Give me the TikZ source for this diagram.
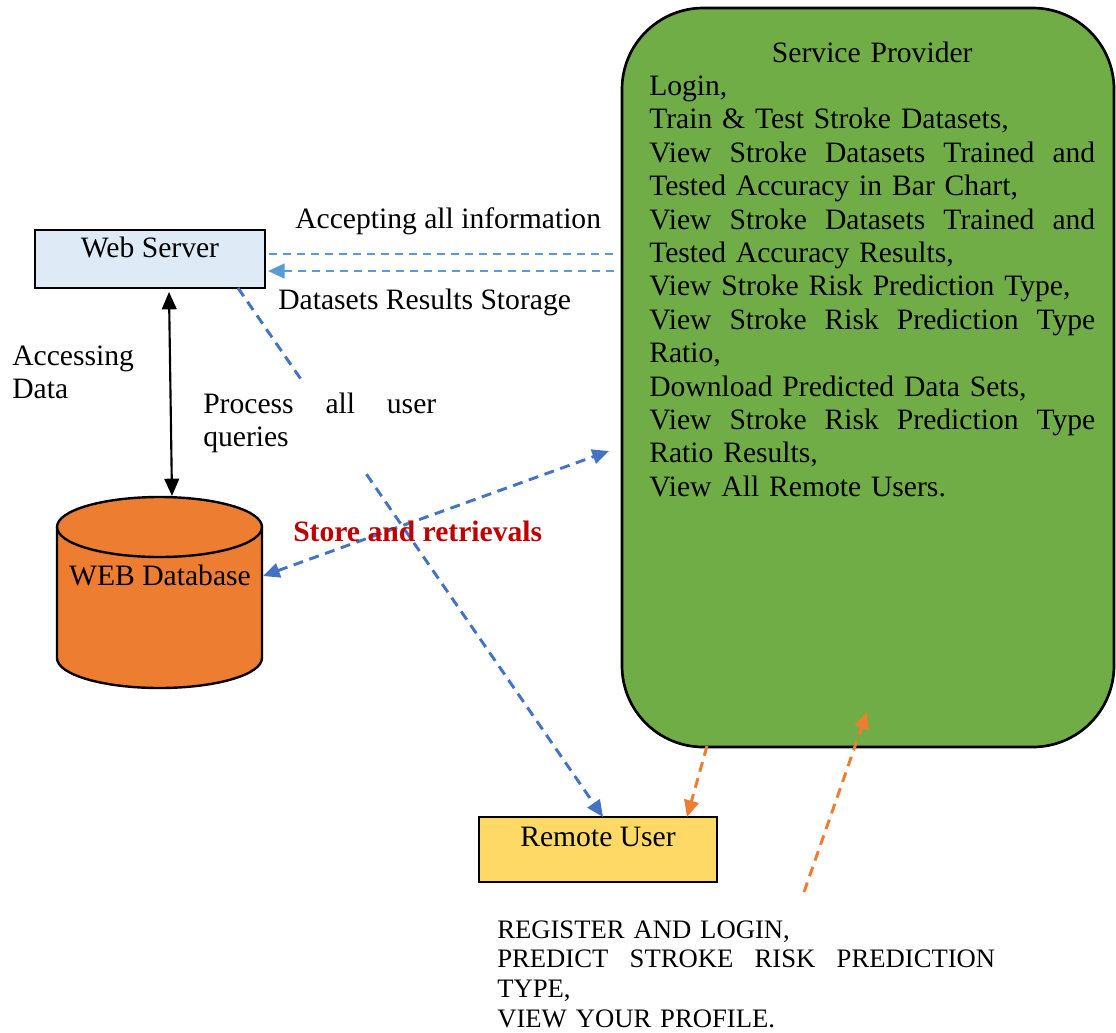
\documentclass[tikz,border=0pt]{standalone}
\usepackage{fontspec}
\setmainfont{Liberation Serif}
\usetikzlibrary{arrows.meta,calc,fit}

\definecolor{spgreen}{HTML}{70AD47}
\definecolor{dborange}{HTML}{ED7D31}
\definecolor{wsblue}{HTML}{DEEBF7}
\definecolor{ruyellow}{HTML}{FFD966}
\definecolor{linkblue}{HTML}{4472C4}
\definecolor{lightlink}{HTML}{5B9BD5}
\definecolor{darkred}{HTML}{C00000}

\newcommand\mainfs{\fontsize{22.2}{25.05}\selectfont}
\newcommand\capsfs{\fontsize{20}{22.3}\selectfont}
% a line spread over the full width of its text block
\newcommand\fullline[1]{\leavevmode\hbox to \linewidth{#1}}

\tikzset{
  x=0.75pt, y=-0.75pt,
  boxshape/.style={draw=black, line width=1.8pt, inner sep=0pt},
  txt/.style={inner sep=0pt, font=\mainfs, text=black},
  bluelink/.style={draw=linkblue, line width=2.2pt, dash pattern=on 7.5pt off 5pt},
  lightlinkline/.style={draw=lightlink, line width=1.6pt, dash pattern=on 6pt off 4.5pt},
  orangelink/.style={draw=dborange, line width=2.2pt, dash pattern=on 7.5pt off 5pt},
  bluehead/.style={-{Triangle[length=12.5pt,width=11pt]}},
  bluehead2/.style={{Triangle[length=12.5pt,width=11pt]}-{Triangle[length=12.5pt,width=11pt]}},
  blackarrow/.style={draw=black, line width=1.6pt, {Triangle[length=13pt,width=11pt]}-{Triangle[length=13pt,width=11pt]}},
}

\begin{document}
\begin{tikzpicture}
\useasboundingbox (0,0) rectangle (1116,1032);

% Service Provider panel
\node[boxshape, line width=2pt, fill=spgreen, rounded corners=61pt,
      fit={(622,8)(1114,747)}] (sp) {};
\node[txt, anchor=base west, text width=334.5pt, align=left] (sptext) at (649,62) {%
\makebox[\linewidth][c]{Service Provider}\\
Login,\\
Train \& Test Stroke Datasets,\\
\fullline{View\hfill Stroke\hfill Datasets\hfill Trained\hfill and}\\
Tested Accuracy in Bar Chart,\\
\fullline{View\hfill Stroke\hfill Datasets\hfill Trained\hfill and}\\
Tested Accuracy Results,\\
View Stroke Risk Prediction Type,\\
\fullline{View\hfill Stroke\hfill Risk\hfill Prediction\hfill Type}\\
Ratio,\\
Download Predicted Data Sets,\\
\fullline{View\hfill Stroke\hfill Risk\hfill Prediction\hfill Type}\\
Ratio Results,\\
View All Remote Users.};

% Web Server
\node[boxshape, fill=wsblue, fit={(35,230)(265,288)}] (ws) {};
\node[txt, anchor=base] (wslabel) at (150,257) {Web Server};

% Web Database cylinder
\node[inner sep=0pt, fit={(57,497)(262,688)}] (db) {};
\path[draw=black, line width=1.8pt, fill=dborange]
  (57,527) -- (57,658)
  arc[start angle=180, end angle=360, x radius=76.875pt, y radius=22.5pt]
  -- (262,527)
  arc[start angle=0, end angle=180, x radius=76.875pt, y radius=22.5pt]
  -- cycle;
\draw[black, line width=1.8pt] (57,527)
  arc[start angle=180, end angle=360, x radius=76.875pt, y radius=22.5pt];
\node[txt, anchor=base] (dblabel) at (160,585) {WEB Database};

% Remote User
\node[boxshape, fill=ruyellow, fit={(479,817)(717,882)}] (ru) {};
\node[txt, anchor=base] (rulabel) at (598,846) {Remote User};

% connector end points
\coordinate (wsR1) at (269,254);
\coordinate (spL1) at (614,254);
\coordinate (wsR2) at (268,271);
\coordinate (spL2) at (614,271);
\coordinate (wsB) at (169,292);
\coordinate (dbT) at (172,496);
\coordinate (wsOut) at (238,288);
\coordinate (ruIn) at (603,817);
\coordinate (dbR) at (263,576);
\coordinate (spIn) at (609,451);
\coordinate (spOut) at (707,746);
\coordinate (ruIn2) at (687,817);
\coordinate (userSrc) at (804,892);
\coordinate (spIn2) at (867,712);

% Web Server <-> Service Provider
\draw[lightlinkline] (wsR1) -- (spL1);
\draw[lightlinkline, line width=2pt, bluehead] (spL2) -- (wsR2);

% Web Server <-> Web Database
\draw[blackarrow] (wsB) -- (dbT);

% Web Server -> Remote User, interrupted by its label
\draw[bluelink] (wsOut) -- ($(wsOut)!0.18!(ruIn)$);
\draw[bluelink, bluehead] ($(wsOut)!0.352!(ruIn)$) -- (ruIn);

% Web Database <-> Service Provider
\draw[bluelink, bluehead2] (dbR) -- (spIn);

% Service Provider -> Remote User, user input -> Service Provider
\draw[orangelink, bluehead] (spOut) -- (ruIn2);
\draw[orangelink, bluehead] (userSrc) -- (spIn2);

% labels
\node[txt, anchor=base west] (accept) at (295,228) {Accepting all information};
\node[txt, anchor=base west] (storage) at (278,309) {Datasets Results Storage};
\node[txt, anchor=base west, text width=120pt, align=left] (access) at (12,365) {Accessing\\Data};
\node[txt, anchor=base west, text width=174.75pt, align=left] (queries) at (203,413)
  {\fullline{Process\hfill all\hfill user}\\queries};
\node[txt, anchor=base west, text=darkred, font=\mainfs\bfseries] (storeret) at (293,541) {Store and retrievals};
\node[inner sep=0pt, anchor=base west, text width=373.5pt, align=left, font=\capsfs] (usertasks) at (497,938)
  {REGISTER AND LOGIN,\\
   \fullline{PREDICT\hfill STROKE\hfill RISK\hfill PREDICTION}\\
   TYPE,\\
   VIEW YOUR PROFILE.};
\end{tikzpicture}
\end{document}
